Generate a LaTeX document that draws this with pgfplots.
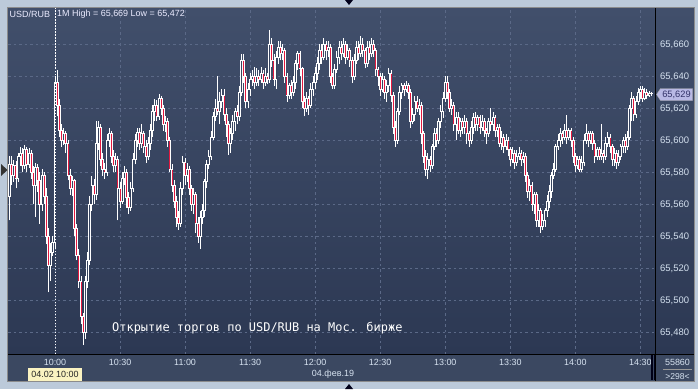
\documentclass[border=0pt]{standalone}
\usepackage{pgfplots}
\pgfplotsset{compat=1.18}
\usepackage{pgfplotstable}
\usepackage{fontspec}
\setmainfont{Liberation Sans}
\newfontfamily\pixfont{DejaVu Sans Mono}
\definecolor{framecol}{HTML}{BCCADA}
\definecolor{bgtop}{HTML}{414F6B}
\definecolor{bgbot}{HTML}{2C3853}
\definecolor{timebg}{HTML}{3B4861}
\definecolor{gridcol}{HTML}{5B6987}
\definecolor{lbl}{HTML}{D6E2F0}
\definecolor{candred}{HTML}{E3183F}
\definecolor{candin}{HTML}{37445F}

\pgfplotstableread{
t o h l c
-21 65565 65590 65550 65585
-20 65585 65590 65572 65578
-19 65578 65588 65574 65584
-18 65584 65587 65570 65576
-17 65576 65592 65574 65590
-16 65590 65596 65584 65592
-15 65592 65595 65580 65584
-14 65584 65597 65582 65594
-13 65594 65596 65580 65585
-12 65585 65595 65583 65592
-11 65592 65594 65576 65580
-10 65580 65584 65560 65572
-9 65572 65586 65552 65583
-8 65583 65585 65568 65575
-7 65575 65580 65548 65560
-6 65560 65582 65556 65578
-5 65578 65580 65560 65565
-4 65565 65570 65535 65540
-3 65540 65545 65505 65522
-2 65522 65536 65512 65530
-1 65530 65540 65528 65536
0 65536 65640 65532 65636
1 65636 65644 65615 65622
2 65622 65626 65602 65606
3 65606 65610 65596 65600
4 65600 65608 65597 65604
5 65604 65606 65592 65598
6 65598 65600 65575 65578
7 65578 65582 65566 65570
8 65570 65578 65565 65575
9 65575 65576 65540 65545
10 65545 65548 65525 65528
11 65528 65532 65508 65512
12 65512 65515 65485 65490
13 65490 65492 65472 65480
14 65480 65515 65476 65512
15 65512 65530 65508 65525
16 65525 65565 65522 65560
17 65560 65578 65556 65572
18 65572 65576 65560 65566
19 65566 65612 65563 65598
20 65598 65612 65594 65608
21 65608 65610 65584 65588
22 65588 65592 65578 65582
23 65582 65586 65576 65580
24 65580 65604 65578 65600
25 65600 65608 65596 65604
26 65604 65606 65586 65590
27 65590 65594 65580 65584
28 65584 65592 65580 65588
29 65588 65590 65550 65570
30 65570 65574 65558 65562
31 65562 65580 65560 65576
32 65576 65584 65572 65580
33 65580 65582 65558 65564
34 65564 65568 65554 65558
35 65558 65574 65556 65570
36 65570 65592 65568 65588
37 65588 65604 65585 65600
38 65600 65608 65596 65605
39 65605 65608 65594 65598
40 65598 65610 65595 65604
41 65604 65606 65592 65596
42 65596 65600 65586 65590
43 65590 65602 65588 65598
44 65598 65610 65594 65606
45 65606 65622 65602 65618
46 65618 65626 65612 65622
47 65622 65625 65612 65615
48 65615 65629 65613 65626
49 65626 65628 65616 65620
50 65620 65622 65606 65610
51 65610 65615 65605 65612
52 65612 65614 65596 65600
53 65600 65602 65580 65582
54 65582 65585 65568 65572
55 65572 65575 65558 65562
56 65562 65565 65546 65552
57 65552 65556 65544 65548
58 65548 65574 65546 65570
59 65570 65590 65566 65586
60 65586 65589 65572 65578
61 65578 65586 65574 65582
62 65582 65584 65566 65570
63 65570 65572 65556 65560
64 65560 65570 65554 65566
65 65566 65568 65542 65548
66 65548 65552 65536 65540
67 65540 65556 65532 65552
68 65552 65560 65548 65556
69 65556 65576 65552 65574
70 65574 65588 65570 65585
71 65585 65594 65582 65590
72 65590 65606 65588 65602
73 65602 65618 65600 65615
74 65615 65626 65612 65620
75 65620 65640 65616 65618
76 65618 65630 65610 65624
77 65624 65632 65620 65628
78 65628 65632 65612 65616
79 65616 65620 65602 65610
80 65610 65612 65591 65598
81 65598 65608 65592 65604
82 65604 65616 65600 65612
83 65612 65620 65606 65618
84 65618 65622 65610 65615
85 65615 65634 65612 65630
86 65630 65654 65628 65650
87 65650 65654 65636 65640
88 65640 65642 65620 65624
89 65624 65636 65620 65632
90 65632 65642 65628 65638
91 65638 65644 65634 65640
92 65640 65646 65632 65636
93 65636 65645 65634 65640
94 65640 65644 65634 65638
95 65638 65646 65636 65642
96 65642 65644 65632 65636
97 65636 65645 65634 65640
98 65640 65642 65635 65638
99 65638 65669 65636 65660
100 65660 65664 65646 65650
101 65650 65654 65634 65638
102 65638 65656 65632 65652
103 65652 65662 65648 65658
104 65658 65662 65650 65654
105 65654 65660 65650 65656
106 65656 65658 65636 65640
107 65640 65642 65624 65628
108 65628 65636 65626 65634
109 65634 65638 65626 65630
110 65630 65640 65628 65636
111 65636 65650 65632 65648
112 65648 65656 65644 65654
113 65654 65656 65640 65645
114 65645 65646 65620 65624
115 65624 65628 65615 65620
116 65620 65630 65618 65626
117 65626 65628 65616 65622
118 65622 65636 65620 65632
119 65632 65640 65628 65636
120 65636 65646 65632 65642
121 65642 65652 65638 65648
122 65648 65660 65644 65656
123 65656 65660 65648 65652
124 65652 65664 65650 65660
125 65660 65662 65650 65656
126 65656 65662 65652 65658
127 65658 65660 65636 65640
128 65640 65642 65632 65634
129 65634 65648 65632 65644
130 65644 65656 65642 65652
131 65652 65662 65648 65658
132 65658 65662 65650 65654
133 65654 65664 65652 65660
134 65660 65662 65648 65652
135 65652 65660 65650 65656
136 65656 65658 65646 65650
137 65650 65652 65636 65640
138 65640 65654 65638 65650
139 65650 65662 65648 65658
140 65658 65662 65650 65654
141 65654 65665 65652 65660
142 65660 65664 65652 65656
143 65656 65658 65645 65648
144 65648 65662 65646 65658
145 65658 65662 65650 65654
146 65654 65664 65652 65660
147 65660 65663 65652 65656
148 65656 65658 65640 65644
149 65644 65646 65634 65640
150 65640 65642 65628 65632
151 65632 65642 65630 65638
152 65638 65640 65626 65630
153 65630 65638 65624 65634
154 65634 65645 65630 65642
155 65642 65644 65624 65628
156 65628 65630 65604 65608
157 65608 65612 65596 65600
158 65600 65620 65598 65618
159 65618 65634 65616 65630
160 65630 65636 65626 65634
161 65634 65636 65628 65632
162 65632 65637 65630 65634
163 65634 65636 65626 65630
164 65630 65632 65608 65612
165 65612 65620 65610 65616
166 65616 65628 65612 65624
167 65624 65628 65618 65620
168 65620 65626 65616 65622
169 65622 65624 65598 65604
170 65604 65606 65586 65590
171 65590 65594 65578 65582
172 65582 65592 65576 65588
173 65588 65590 65580 65584
174 65584 65598 65582 65596
175 65596 65608 65594 65604
176 65604 65608 65596 65600
177 65600 65614 65598 65612
178 65612 65622 65608 65618
179 65618 65630 65614 65626
180 65626 65640 65624 65636
181 65636 65640 65626 65630
182 65630 65632 65618 65620
183 65620 65626 65616 65622
184 65622 65624 65606 65610
185 65610 65618 65600 65614
186 65614 65618 65604 65606
187 65606 65614 65602 65612
188 65612 65614 65604 65608
189 65608 65616 65604 65612
190 65612 65614 65598 65604
191 65604 65606 65596 65600
192 65600 65612 65598 65608
193 65608 65617 65604 65614
194 65614 65618 65606 65610
195 65610 65616 65606 65614
196 65614 65616 65604 65608
197 65608 65616 65606 65612
198 65612 65614 65602 65606
199 65606 65608 65598 65604
200 65604 65614 65602 65612
201 65612 65620 65606 65610
202 65610 65618 65606 65614
203 65614 65616 65602 65606
204 65606 65610 65602 65608
205 65608 65610 65596 65598
206 65598 65606 65594 65602
207 65602 65604 65592 65596
208 65596 65604 65594 65600
209 65600 65602 65590 65594
210 65594 65596 65584 65588
211 65588 65596 65586 65592
212 65592 65594 65582 65586
213 65586 65594 65584 65590
214 65590 65596 65588 65592
215 65592 65594 65584 65588
216 65588 65593 65586 65590
217 65590 65592 65574 65578
218 65578 65580 65564 65568
219 65568 65576 65562 65572
220 65572 65574 65556 65560
221 65560 65568 65554 65566
222 65566 65568 65546 65550
223 65550 65560 65546 65556
224 65556 65558 65542 65546
225 65546 65554 65544 65550
226 65550 65558 65546 65556
227 65556 65566 65552 65562
228 65562 65572 65558 65568
229 65568 65580 65564 65578
230 65578 65586 65576 65582
231 65582 65598 65580 65596
232 65596 65604 65594 65600
233 65600 65608 65596 65604
234 65604 65606 65598 65602
235 65602 65610 65600 65606
236 65606 65616 65598 65602
237 65602 65608 65600 65606
238 65606 65608 65596 65600
239 65600 65602 65586 65590
240 65590 65592 65580 65584
241 65584 65590 65582 65588
242 65588 65590 65580 65582
243 65582 65590 65580 65586
244 65586 65604 65584 65600
245 65600 65610 65598 65604
246 65604 65606 65596 65600
247 65600 65606 65598 65604
248 65604 65606 65594 65598
249 65598 65600 65586 65590
250 65590 65596 65588 65594
251 65594 65596 65588 65590
252 65590 65610 65588 65592
253 65592 65594 65586 65590
254 65590 65602 65588 65598
255 65598 65605 65596 65602
256 65602 65604 65592 65596
257 65596 65598 65584 65588
258 65588 65595 65584 65592
259 65592 65594 65582 65586
260 65586 65594 65584 65590
261 65590 65598 65588 65596
262 65596 65602 65592 65600
263 65600 65604 65592 65596
264 65596 65606 65594 65602
265 65602 65622 65600 65620
266 65620 65630 65612 65626
267 65626 65628 65612 65616
268 65616 65628 65614 65624
269 65624 65633 65622 65630
270 65630 65634 65626 65632
271 65632 65634 65624 65626
272 65626 65633 65625 65630
273 65630 65632 65626 65628
274 65628 65631 65627 65629
275 65629 65630 65628 65629
}\candles

\begin{document}
\begin{tikzpicture}[x=1bp,y=1bp]
% frame and panels
\fill[framecol] (0,0) rectangle (698,389);
\shade[top color=bgtop, bottom color=bgbot] (8,35) rectangle (694,381);
\fill[timebg] (8,8) rectangle (694,35);
\draw[color=black!45, line width=0.6bp] (7.7,7.7) rectangle (694.3,381.3);
% markers in frame
\fill[black!80] (1,225) -- (1,213) -- (7.5,219) -- cycle;
\fill[black!75!blue!40!black] (345,389) -- (353,389) -- (349,384) -- cycle;
\fill[black!75!blue!40!black] (345,0) -- (353,0) -- (349,5) -- cycle;

\begin{axis}[
  at={(8bp,35bp)}, anchor=south west,
  scale only axis, width=647.7bp, height=346bp,
  xmin=-21.68, xmax=277.07, ymin=65466.45, ymax=65682.7,
  axis x line*=bottom, axis y line*=right,
  axis line style={black, line width=1bp},
  major tick length=0pt,
  xtick={0,30,...,270},
  xticklabels={10:00,10:30,11:00,11:30,12:00,12:30,13:00,13:30,14:00,14:30},
  ytick={65480,65500,...,65660},
  scaled y ticks=false,
  yticklabel={\pgfmathprintnumber[fixed, precision=0, 1000 sep={,}, assume math mode=true]{\tick}},
  grid=major,
  major grid style={gridcol, line width=0.8bp, dash pattern=on 2.5bp off 3bp},
  xticklabel style={anchor=north, inner sep=0pt, yshift=-4.6bp, font=\fontsize{9}{9}\selectfont, text=lbl},
  yticklabel style={anchor=west, inner sep=0pt, xshift=4.3bp, font=\fontsize{9.5}{9}\selectfont, text=lbl},
]
% wicks
\addplot[draw=none, mark=none, forget plot,
  error bars/.cd, y dir=plus, y explicit, error mark=none,
  error bar style={draw=white, solid, line width=0.9bp, line cap=butt}]
  table[x=t, y=l, y error plus expr=\thisrow{h}-\thisrow{l}] {\candles};
% bodies (outline)
\addplot[draw=none, mark=none, forget plot,
  error bars/.cd, y dir=plus, y explicit, error mark=none,
  error bar style={draw=white, solid, line width=2.7bp, line cap=butt}]
  table[x=t, y expr={min(\thisrow{o},\thisrow{c})-0.3},
        y error plus expr={abs(\thisrow{c}-\thisrow{o})+0.6}] {\candles};
% bearish interiors
\addplot[draw=none, mark=none, forget plot,
  error bars/.cd, y dir=plus, y explicit, error mark=none,
  error bar style={draw=candred, solid, line width=1bp, line cap=butt}]
  table[x=t, y expr={\thisrow{c}+0.33},
        y error plus expr={max(\thisrow{o}-\thisrow{c}-0.66,0)}] {\candles};
% bullish interiors
\addplot[draw=none, mark=none, forget plot,
  error bars/.cd, y dir=plus, y explicit, error mark=none,
  error bar style={draw=candin, solid, line width=0.9bp, line cap=butt}]
  table[x=t, y expr={\thisrow{o}+0.33},
        y error plus expr={max(\thisrow{c}-\thisrow{o}-0.66,0)}] {\candles};
% cursor at 10:00
\draw[white, line width=1bp, dash pattern=on 1.5bp off 1.5bp] (axis cs:0,65466.45) -- (axis cs:0,65682.7);
\end{axis}

% right panel separator extends into time panel
\draw[black, line width=1bp] (655.7,8) -- (655.7,35);
\draw[black, line width=1bp] (655.7,35) -- (694,35);
\fill[black!70!blue!30!black] (651,9) rectangle (653,34);
\fill[black!55!blue!20!black] (653.5,9) rectangle (655,34);

% header
\node[anchor=west, inner sep=0pt, text=white!92!blue, font=\fontsize{9}{9}\selectfont] at (9.5,374.5) {USD/RUB};
\node[anchor=west, inner sep=0pt, text=white!92!blue, font=\fontsize{9}{9}\selectfont] at (57,374.5) {1M High = 65,669 Low = 65,472};

% annotation
\node[anchor=west, inner sep=0pt, text=white, font=\pixfont\fontsize{12}{12}\selectfont] at (112,61) {Открытие торгов по USD/RUB на Мос. бирже};

% price marker
\fill[white!78!blue!80!gray, draw=gray!70] (656.5,294.5) -- (660.5,300.5) -- (692.5,300.5) -- (692.5,288.5) -- (660.5,288.5) -- cycle;
\node[inner sep=0pt, text=black!65!blue!60!gray, font=\fontsize{9.3}{9}\selectfont] at (676.5,294.5) {65,629};

% date labels
\fill[yellow!20!white!92!brown] (28,8.5) rectangle (82,21);
\node[inner sep=0pt, text=black!85, font=\fontsize{9}{9}\selectfont] at (55,14.7) {04.02 10:00};
\node[inner sep=0pt, text=lbl, font=\fontsize{9}{9}\selectfont] at (333,15) {04.фев.19};

% bottom right cell
\node[inner sep=0pt, text=lbl, font=\fontsize{9}{9}\selectfont] at (677.5,27) {55860};
\draw[gray!80, line width=0.6bp] (663,19.5) -- (692,19.5);
\node[inner sep=0pt, text=lbl, font=\fontsize{8.6}{9}\selectfont] at (677.5,12) {>298<};

\pgfresetboundingbox
\useasboundingbox (0,0) rectangle (698,389);
\end{tikzpicture}
\end{document}
